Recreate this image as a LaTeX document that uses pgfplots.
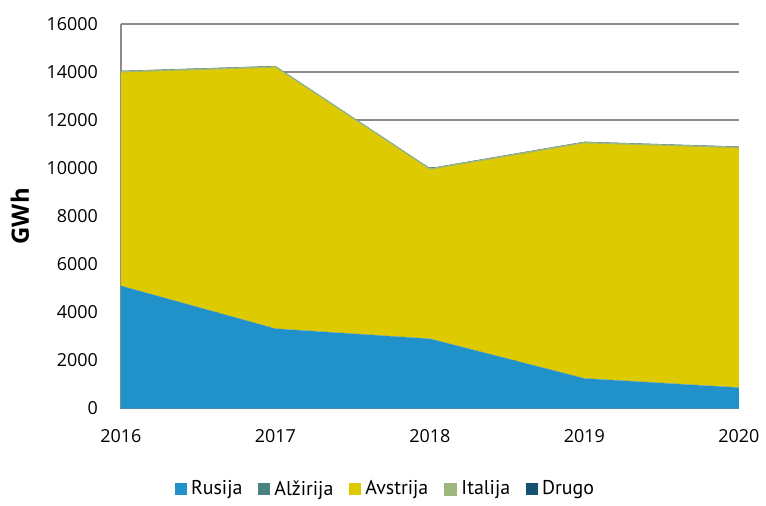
\documentclass[border=0pt]{standalone}
\usepackage{pgfplots}
\pgfplotsset{compat=1.18}
\usepackage{fontspec}
\setmainfont{Open Sans}
\newfontfamily\legfont{PT Sans}

\definecolor{cRus}{RGB}{33,145,201}
\definecolor{cAlz}{RGB}{74,130,128}
\definecolor{cAvs}{RGB}{222,202,0}
\definecolor{cIta}{RGB}{158,183,124}
\definecolor{cDru}{RGB}{22,80,115}
\definecolor{cGrid}{RGB}{140,140,140}

\begin{document}
\begin{tikzpicture}
\begin{axis}[
  scale only axis,
  width=310pt, height=193pt,
  xmin=2016, xmax=2020,
  ymin=0, ymax=16000,
  xtick={2016,2017,2018,2019,2020},
  ytick={0,2000,...,16000},
  scaled y ticks=false,
  xticklabel style={/pgf/number format/1000 sep=},
  yticklabel style={/pgf/number format/1000 sep=},
  /pgf/number format/assume math mode=true,
  tick label style={font=\fontsize{9}{10}\selectfont},
  major tick length=0pt,
  axis lines*=left,
  axis line style={cGrid, line width=0.8pt},
  ymajorgrids,
  grid style={cGrid, line width=0.8pt},
  xticklabel shift=7pt,
  yticklabel shift=8pt,
  ylabel={\textbf{GWh}},
  ylabel style={font=\fontsize{12}{13}\selectfont},
  ylabel shift=2pt,
  stack plots=y,
  area legend,
  legend columns=5,
  legend style={at={(0.43,-0.165)}, anchor=north, draw=none,
    font=\legfont\fontsize{10}{11}\selectfont,
    /tikz/every even column/.append style={column sep=6pt}},
  legend image code/.code={\fill[#1] (0pt,-3pt) rectangle (6pt,3pt);},
]
\addplot[fill=cRus, draw=none] coordinates {
  (2016,5100) (2017,3320) (2018,2900) (2019,1250) (2020,870)
} \closedcycle;
\addlegendentry{Rusija}
\addplot[fill=cAlz, draw=none] coordinates {
  (2016,10) (2017,10) (2018,10) (2019,10) (2020,10)
} \closedcycle;
\addlegendentry{Alžirija}
\addplot[fill=cAvs, draw=none] coordinates {
  (2016,8870) (2017,10850) (2018,7020) (2019,9770) (2020,9950)
} \closedcycle;
\addlegendentry{Avstrija}
\addplot[fill=cIta, draw=cIta, line width=0.6pt] coordinates {
  (2016,40) (2017,40) (2018,40) (2019,40) (2020,40)
} \closedcycle;
\addlegendentry{Italija}
\addplot[fill=cDru, draw=none] coordinates {
  (2016,30) (2017,30) (2018,30) (2019,30) (2020,30)
} \closedcycle;
\addlegendentry{Drugo}
\end{axis}
\path ([yshift=12pt]current axis.north);
\path ([xshift=-2pt]current axis.outer west);
\end{tikzpicture}
\end{document}
